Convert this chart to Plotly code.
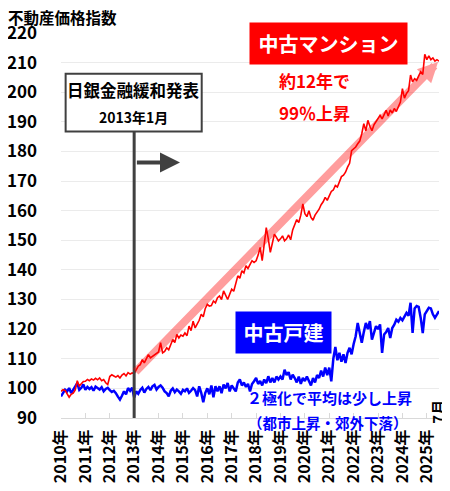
import plotly.graph_objects as go

# monthly index, Jan 2010 .. Jul 2025
mansion = [
    99.0, 99.6, 99.3, 98.2, 97.0, 98.0, 98.4, 99.5, 102.6, 100.8, 101.5, 102.3,  # 2010
    102.4, 103.0, 102.6, 103.2, 102.8, 103.4, 102.9, 103.5, 102.6, 103.0, 101.9, 101.3,  # 2011
    104.0, 104.6, 104.2, 103.8, 104.3, 103.5, 104.5, 105.0, 104.2, 105.3, 104.8, 105.2,  # 2012
    105.0, 106.2, 107.5, 108.0, 109.7, 108.6, 110.2, 111.4, 110.3, 110.8, 111.6, 112.0,  # 2013
    112.3, 115.4, 112.0, 112.5, 113.7, 113.0, 115.0, 116.5, 115.5, 118.2, 117.0, 118.0,  # 2014
    117.6, 118.7, 117.8, 121.0, 119.5, 122.7, 120.4, 121.8, 123.0, 125.0, 124.2, 127.0,  # 2015
    128.4, 127.8, 128.0, 129.5, 128.9, 130.6, 131.2, 130.0, 132.9, 131.5, 130.0, 131.8,  # 2016
    133.5, 132.8, 135.5, 138.0, 137.2, 139.7, 139.0, 141.4, 140.5, 142.0, 143.1, 142.5,  # 2017
    143.1, 145.0, 147.6, 143.1, 148.0, 154.3, 150.5, 145.9, 149.0, 152.1, 151.0, 149.8,  # 2018
    150.5, 151.5, 149.8, 150.5, 151.8, 150.2, 153.5, 155.0, 157.0, 156.0, 158.5, 162.3,  # 2019
    159.0, 158.0, 160.0, 157.7, 156.8, 158.5, 159.5, 160.5, 162.0, 163.0, 164.5, 163.5,  # 2020
    165.0, 166.5, 167.0, 168.5, 168.0, 170.0, 171.5, 172.0, 173.0, 174.7, 176.0, 180.3,  # 2021
    181.0, 181.5, 182.6, 183.5, 186.0, 189.4, 187.0, 190.5, 188.5, 187.0, 189.0, 190.0,  # 2022
    191.0, 192.2, 191.0, 192.5, 193.9, 192.0, 194.0, 193.0, 194.5, 193.5, 195.0, 196.7,  # 2023
    201.2, 198.0, 199.6, 200.5, 205.8, 203.5, 204.6, 204.0, 205.5, 206.9, 206.0, 212.8,  # 2024
    211.0, 212.3, 211.0, 211.6, 210.5, 211.0, 210.5,  # 2025
]
kodate = [
    97.3, 98.5, 99.6, 99.0, 100.1, 98.4, 99.5, 100.5, 101.8, 99.5, 100.2, 101.3,  # 2010
    99.5, 100.5, 99.8, 100.4, 99.2, 100.6, 100.0, 99.6, 100.4, 99.0, 99.8, 100.2,  # 2011
    99.4, 98.8, 99.2, 98.4, 97.2, 96.2, 97.5, 99.0, 98.0, 100.1, 99.2, 100.2,  # 2012
    96.9, 99.0, 98.2, 99.5, 100.2, 98.6, 99.8, 100.5, 99.4, 100.7, 101.2, 99.6,  # 2013
    100.5, 101.0, 100.2, 99.0, 98.4, 97.3, 99.2, 100.0, 98.7, 99.6, 99.0, 98.2,  # 2014
    99.5, 99.0, 100.0, 98.5, 99.2, 100.1, 99.4, 97.3, 100.7, 98.5, 95.3, 98.5,  # 2015
    100.0, 98.0, 101.0, 97.0, 100.7, 99.0, 100.7, 98.4, 101.3, 100.0, 101.8, 99.0,  # 2016
    101.0, 100.0, 99.0, 102.0, 103.0, 101.0, 102.0, 100.5, 101.5, 99.0, 101.5, 102.4,  # 2017
    103.5, 101.5, 102.5, 101.0, 103.0, 101.8, 104.1, 102.0, 103.5, 102.0, 104.0, 103.0,  # 2018
    104.0, 103.0, 106.3, 104.5, 105.5, 103.0, 104.6, 103.5, 102.0, 104.0, 101.5, 103.5,  # 2019
    102.5, 104.0, 102.4, 101.0, 103.5, 102.0, 104.5, 103.5, 106.0, 104.0, 107.0, 104.5,  # 2020
    107.0, 102.4, 110.0, 114.0, 109.5, 112.0, 109.0, 111.5, 108.6, 112.0, 113.7, 111.5,  # 2021
    115.0, 117.6, 122.1, 118.0, 115.4, 119.0, 122.1, 120.0, 122.7, 116.5, 118.5, 121.0,  # 2022
    120.0, 121.6, 112.0, 118.2, 119.0, 120.4, 117.0, 120.4, 121.5, 123.2, 122.5, 123.8,  # 2023
    123.0, 124.5, 125.5, 124.5, 128.9, 118.7, 127.0, 127.8, 127.5, 123.8, 118.7, 125.0,  # 2024
    126.0, 127.2, 127.0, 125.0, 123.8, 125.0, 126.1,  # 2025
]
years = list(range(2010, 2026))
year_labels = [f"{y}年" for y in years]

x = [2010 + i / 12 for i in range(len(mansion))]

FONT = "Noto Sans CJK JP"
RED = "#ff0000"
BLUE = "#0000ff"
DARK = "#404040"

fig = go.Figure()
fig.add_trace(go.Scatter(x=x, y=kodate, mode="lines", line=dict(color=BLUE, width=2.5)))
fig.add_trace(go.Scatter(x=x, y=mansion, mode="lines", line=dict(color=RED, width=1.6)))

# 2013年1月 marker line and box
fig.add_shape(type="line", x0=2013, x1=2013, y0=90, y1=186.7,
              line=dict(color=DARK, width=3), layer="above")
fig.add_shape(type="rect", x0=2010.19, x1=2015.77, y0=186.7, y1=206.2,
              line=dict(color=DARK, width=2), fillcolor="white", layer="above")

annotations = [
    dict(x=2012.98, y=200.8, text="日銀金融緩和発表", showarrow=False,
         font=dict(size=16.5, color="black", weight="bold")),
    dict(x=2012.98, y=191.5, text="2013年1月", showarrow=False,
         font=dict(size=14, color="black", weight="bold")),
    # black arrow to the right
    dict(x=2014.88, y=176.3, ax=2013.05, ay=176.3, axref="x", ayref="y",
         text="", showarrow=True, arrowhead=2, arrowsize=1.0, arrowwidth=4,
         arrowcolor=DARK),
    # pink trend arrow
    dict(x=2025.46, y=210.2, ax=2013.0, ay=105.1, axref="x", ayref="y",
         text="", showarrow=True, arrowhead=2, arrowsize=0.5, arrowwidth=8,
         arrowcolor="rgba(255,0,0,0.38)"),
    dict(x=2020.96, y=216.4, text="中古マンション", showarrow=False, bgcolor=RED,
         width=155, height=39, font=dict(size=20, color="white", weight="bold")),
    dict(x=2020.41, y=203.8, text="約12年で", showarrow=False,
         font=dict(size=17, color=RED, weight="bold")),
    dict(x=2020.41, y=193.3, text="99％上昇", showarrow=False,
         font=dict(size=17, color=RED, weight="bold")),
    dict(x=2019.14, y=118.8, text="中古戸建", showarrow=False, bgcolor=BLUE,
         width=93, height=39, font=dict(size=20, color="white", weight="bold")),
    dict(x=2021.03, y=96.8, text="２極化で平均は少し上昇", showarrow=False,
         font=dict(size=15, color=BLUE, weight="bold")),
    dict(x=2020.95, yref="paper", y=-0.011, yanchor="middle",
         text="（都市上昇・郊外下落）", showarrow=False,
         font=dict(size=14.5, color=BLUE, weight="bold")),
    dict(xref="paper", yref="paper", x=0.997, y=0.016, xanchor="center",
         yanchor="middle", text="7月", showarrow=False, textangle=-90,
         font=dict(size=15, color="black", weight="bold")),
]

# page body adds an 8px offset, so the figure is 8px smaller on each axis
fig.update_layout(
    width=442,
    height=483,
    margin=dict(l=53, r=11, t=25, b=73),
    paper_bgcolor="white",
    plot_bgcolor="white",
    showlegend=False,
    font=dict(family=FONT, color="black"),
    title=dict(text="不動産価格指数", x=0.0, xanchor="left", y=0.979, yanchor="middle",
               font=dict(size=15.5, color="black", weight="bold")),
    annotations=annotations,
)
fig.update_xaxes(
    range=[2010, 2025.5],
    tickvals=years,
    ticktext=year_labels,
    tickangle=-90,
    tickfont=dict(size=16, weight="bold"),
    showgrid=False,
    showline=True,
    linecolor="#d9d9d9",
    ticks="inside",
    ticklen=5,
    tickcolor="#d9d9d9",
    zeroline=False,
    automargin=False,
    ticklabelstandoff=4,
)
fig.update_yaxes(
    range=[90, 220],
    dtick=10,
    tickfont=dict(size=17, weight="bold"),
    gridcolor="#ebebeb",
    zeroline=False,
    ticklabelstandoff=23,
    automargin=False,
)

fig.write_html("out.html")
